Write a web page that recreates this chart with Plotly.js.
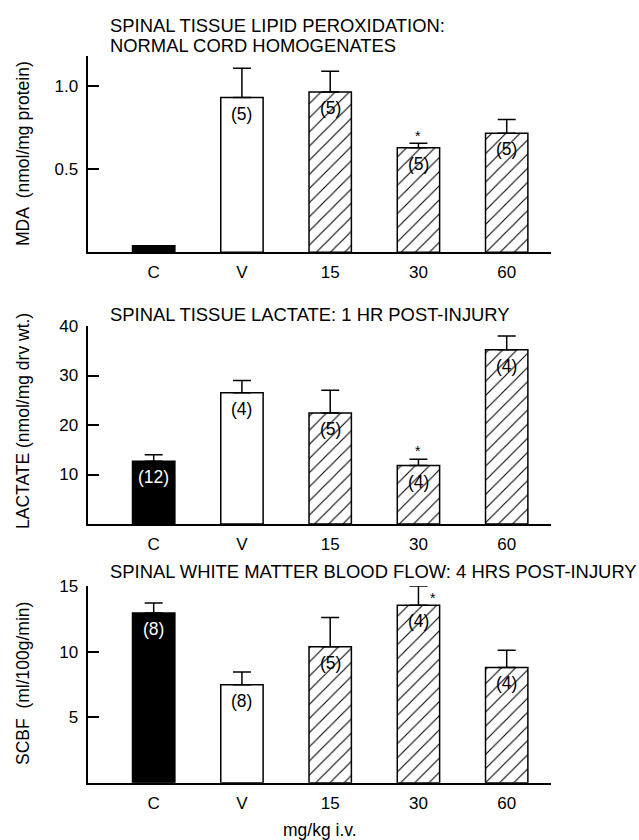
<!DOCTYPE html>
<html>
<head>
<meta charset="utf-8">
<script src="https://cdn.plot.ly/plotly-3.0.1.min.js"></script>
<style>
  html, body { margin: 0; padding: 0; background: #fff; }
  #chart { width: 639px; height: 840px; }
</style>
</head>
<body>
<div id="chart"></div>
<script>
// ---- data ----
const categories = ['C', 'V', '15', '30', '60'];

const mdaMean = [0.04, 0.93, 0.963, 0.629, 0.715];
const mdaErr  = [0, 0.176, 0.126, 0.026, 0.084];
const mdaN    = ['', '(5)', '(5)', '(5)', '(5)'];
const mdaSig  = [false, false, false, true, false];

const lactateMean = [12.7, 26.5, 22.4, 11.8, 35.2];
const lactateErr  = [1.3, 2.5, 4.6, 1.3, 2.8];
const lactateN    = ['(12)', '(4)', '(5)', '(4)', '(4)'];
const lactateSig  = [false, false, false, true, false];

const scbfMean = [12.95, 7.46, 10.36, 13.53, 8.79];
const scbfErr  = [0.75, 0.99, 2.24, 1.47, 1.31];
const scbfN    = ['(8)', '(8)', '(5)', '(4)', '(4)'];
const scbfSig  = [false, false, false, true, false];

// group of each category: control (black), vehicle (white), drug doses (hatched)
const groups = ['control', 'vehicle', 'drug', 'drug', 'drug'];

const panelTitles = [
  ['SPINAL TISSUE LIPID PEROXIDATION:', 'NORMAL CORD HOMOGENATES'],
  ['SPINAL TISSUE LACTATE: 1 HR POST-INJURY'],
  ['SPINAL WHITE MATTER BLOOD FLOW: 4 HRS POST-INJURY']
];
const yTitles = ['MDA  (nmol/mg protein)', 'LACTATE (nmol/mg drv wt.)', 'SCBF  (ml/100g/min)'];
const xTitle = 'mg/kg i.v.';

const mdaTicks = [0.5, 1.0, 1.18];
const mdaTickText = ['0.5', '1.0', ''];
const lactateTicks = [10, 20, 30, 40];
const scbfTicks = [5, 10, 15];

// ---- styling / layout ----
const FONT = 'Liberation Sans, Arial, Helvetica, sans-serif';
const W = 639, H = 840;
const groupStyle = {
  control: { color: '#000000', shape: '' },
  vehicle: { color: '#ffffff', shape: '' },
  drug:    { color: '#ffffff', shape: '/' }
};
const xDomain = [88.3 / W, 551 / W];
const xRange = [-0.741, 4.502];

function py(px) { return 1 - px / H; }

const panels = [
  { mean: mdaMean, err: mdaErr, n: mdaN, sig: mdaSig, ax: '', dom: [py(252.3), py(56)], range: [0, 1.18],
    tickvals: mdaTicks, ticktext: mdaTickText, titleY: [25.8, 45.2], yTitleY: 154, sigShift: [0, 7] },
  { mean: lactateMean, err: lactateErr, n: lactateN, sig: lactateSig, ax: '2', dom: [py(524), py(326)], range: [0, 40],
    tickvals: lactateTicks, ticktext: lactateTicks.map(String), titleY: [314], yTitleY: 421, sigShift: [0, 8] },
  { mean: scbfMean, err: scbfErr, n: scbfN, sig: scbfSig, ax: '3', dom: [py(782.7), py(586)], range: [0, 15],
    tickvals: scbfTicks, ticktext: scbfTicks.map(String), titleY: [571], yTitleY: 684, sigShift: [15, -12] }
];

const data = [];
const annotations = [];
const layout = {
  width: W, height: H,
  margin: { l: 0, r: 0, t: 0, b: 0 },
  paper_bgcolor: '#ffffff',
  plot_bgcolor: '#ffffff',
  showlegend: false,
  barmode: 'overlay',
  font: { family: FONT, size: 17, color: '#000' },
  annotations: annotations
};

panels.forEach((p, k) => {
  Object.keys(groupStyle).forEach(g => {
    const idx = categories.map((c, i) => i).filter(i => groups[i] === g);
    const st = groupStyle[g];
    const marker = { color: st.color, line: { color: '#000', width: 1.5 } };
    if (st.shape) {
      marker.pattern = { shape: st.shape, fgcolor: '#000000', bgcolor: '#ffffff', size: 10, solidity: 0.11, fillmode: 'replace' };
    }
    data.push({
      type: 'bar',
      x: idx.map(i => categories[i]),
      y: idx.map(i => p.mean[i]),
      xaxis: 'x' + p.ax,
      yaxis: 'y' + p.ax,
      width: 0.48,
      marker: marker,
      error_y: {
        type: 'data', symmetric: false,
        array: idx.map(i => p.err[i]),
        arrayminus: idx.map(() => 0),
        color: '#000', thickness: 1.5, width: 9, visible: true
      },
      hoverinfo: 'skip'
    });
  });

  layout['xaxis' + p.ax] = {
    domain: xDomain, range: xRange, type: 'category',
    categoryorder: 'array', categoryarray: categories,
    anchor: 'y' + p.ax,
    showline: true, linecolor: '#000', linewidth: 1.5,
    ticks: '', showgrid: false, zeroline: false,
    tickfont: { family: FONT, size: 17, color: '#000' },
    ticklabelstandoff: 4, fixedrange: true
  };
  layout['yaxis' + p.ax] = {
    domain: p.dom, range: p.range,
    anchor: 'x' + p.ax,
    showline: true, linecolor: '#000', linewidth: 1.5,
    ticks: 'inside', ticklen: 11, tickwidth: 1.5, tickcolor: '#000',
    tickmode: 'array', tickvals: p.tickvals, ticktext: p.ticktext,
    showgrid: false, zeroline: false,
    tickfont: { family: FONT, size: 17, color: '#000' },
    ticklabelstandoff: 5, fixedrange: true
  };

  // counts inside bars
  p.n.forEach((t, i) => {
    if (!t) return;
    annotations.push({
      xref: 'x' + p.ax, yref: 'y' + p.ax, x: i, y: p.mean[i],
      text: t, showarrow: false, yanchor: 'middle', xanchor: 'center', yshift: -16,
      font: { family: FONT, size: 17.5, color: groups[i] === 'control' ? '#fff' : '#000' }
    });
  });
  // significance asterisks
  p.sig.forEach((s, i) => {
    if (!s) return;
    annotations.push({
      xref: 'x' + p.ax, yref: 'y' + p.ax, x: i, y: p.mean[i] + p.err[i],
      text: '*', showarrow: false, yanchor: 'middle', xanchor: 'center',
      xshift: p.sigShift[0], yshift: p.sigShift[1],
      font: { family: FONT, size: 14, color: '#000' }
    });
  });
  // panel titles
  panelTitles[k].forEach((line, j) => {
    annotations.push({
      xref: 'paper', yref: 'paper', x: 109.3 / W, y: py(p.titleY[j]),
      text: line, showarrow: false, xanchor: 'left', yanchor: 'middle', borderpad: 0,
      font: { family: FONT, size: 18.4, color: '#000' }
    });
  });
  // y axis titles
  annotations.push({
    xref: 'paper', yref: 'paper', x: 23 / W, y: py(p.yTitleY),
    text: yTitles[k], showarrow: false, textangle: -90, xanchor: 'center', yanchor: 'middle',
    font: { family: FONT, size: 17.5, color: '#000' }
  });
});

annotations.push({
  xref: 'paper', yref: 'paper', x: (88.3 + 551) / 2 / W, y: py(830),
  text: xTitle, showarrow: false, xanchor: 'center', yanchor: 'middle',
  font: { family: FONT, size: 17.5, color: '#000' }
});

Plotly.newPlot('chart', data, layout, { displayModeBar: false });
</script>
</body>
</html>
